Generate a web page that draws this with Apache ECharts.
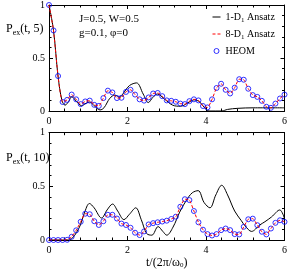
<!DOCTYPE html>
<html><head><meta charset="utf-8">
<script src="https://cdn.jsdelivr.net/npm/echarts@6/dist/echarts.min.js"></script>
<style>html,body{margin:0;padding:0;background:#fff}#c{width:290px;height:270px}</style>
</head><body><div id="c"></div>
<script>
// ---- data ----
var heomT = [0,0.115,0.231,0.346,0.462,0.577,0.692,0.808,0.923,1.038,1.154,1.269,1.385,1.5,1.615,1.731,1.846,1.962,2.077,2.192,2.308,2.423,2.538,2.654,2.769,2.885,3.0,3.115,3.231,3.346,3.462,3.577,3.692,3.808,3.923,4.038,4.154,4.269,4.385,4.5,4.615,4.731,4.846,4.962,5.077,5.192,5.308,5.423,5.538,5.654,5.769,5.885,6.0];
var heomTop = [1.0,0.76,0.33,0.085,0.105,0.155,0.11,0.065,0.09,0.098,0.058,0.048,0.122,0.192,0.175,0.122,0.125,0.18,0.20,0.155,0.11,0.098,0.128,0.165,0.17,0.14,0.10,0.096,0.087,0.07,0.065,0.093,0.11,0.10,0.047,0.034,0.11,0.217,0.257,0.20,0.165,0.22,0.30,0.295,0.21,0.15,0.133,0.096,0.04,0.03,0.07,0.118,0.155];
var d8Top = [1.0,0.76,0.33,0.085,0.105,0.155,0.11,0.065,0.09,0.098,0.058,0.048,0.122,0.192,0.175,0.122,0.125,0.18,0.20,0.155,0.11,0.098,0.128,0.165,0.17,0.14,0.10,0.096,0.087,0.07,0.065,0.093,0.11,0.10,0.047,0.034,0.11,0.217,0.257,0.20,0.165,0.22,0.30,0.295,0.21,0.15,0.133,0.096,0.04,0.03,0.07,0.118,0.155];
var heomBot = [0,0,0,0,0.002,0.03,0.09,0.17,0.245,0.24,0.175,0.14,0.175,0.235,0.235,0.20,0.153,0.14,0.114,0.068,0.046,0.08,0.145,0.157,0.165,0.172,0.18,0.196,0.217,0.31,0.38,0.372,0.27,0.165,0.096,0.055,0.042,0.055,0.092,0.107,0.092,0.055,0.052,0.123,0.193,0.199,0.138,0.077,0.052,0.107,0.16,0.184,0.169];
var d8Bot = [0,0,0,0,0.002,0.03,0.09,0.17,0.245,0.24,0.175,0.14,0.175,0.235,0.235,0.20,0.153,0.14,0.114,0.068,0.046,0.08,0.145,0.157,0.165,0.172,0.18,0.196,0.217,0.31,0.38,0.372,0.27,0.165,0.096,0.055,0.042,0.055,0.092,0.107,0.092,0.055,0.052,0.123,0.193,0.199,0.138,0.077,0.052,0.107,0.16,0.184,0.169];
var blackTopT = [0,0.115,0.23,0.33,0.41,0.5,0.58,0.7,0.83,0.95,1.04,1.15,1.3,1.4,1.55,1.68,1.8,1.9,2.05,2.23,2.4,2.53,2.65,2.76,2.95,3.15,3.35,3.6,3.7,3.84,4.0,4.1,4.4,4.55,4.8,5.2,6.0];
var blackTopV = [1.0,0.76,0.33,0.10,0.055,0.09,0.135,0.09,0.05,0.075,0.085,0.05,0.01,0.03,0.12,0.15,0.13,0.17,0.24,0.265,0.16,0.08,0.13,0.16,0.11,0.055,0.045,0.09,0.105,0.085,0.015,0.0,0.0,0.015,0.025,0.03,0.03];
var blackBotT = [0,0.5,0.6,0.7,0.8,0.9,1.03,1.15,1.34,1.48,1.62,1.75,1.91,2.05,2.21,2.35,2.49,2.62,2.78,2.9,3.0,3.16,3.33,3.5,3.65,3.8,3.95,4.1,4.25,4.4,4.55,4.73,4.9,5.0,5.16,5.37,5.5,5.67,5.88,6.0];
var blackBotV = [0,0,0.02,0.07,0.14,0.25,0.34,0.30,0.205,0.28,0.335,0.27,0.19,0.24,0.30,0.19,0.06,0.045,0.125,0.08,0.045,0.12,0.26,0.37,0.44,0.46,0.35,0.30,0.42,0.51,0.42,0.27,0.18,0.13,0.08,0.14,0.17,0.215,0.28,0.20];
var seriesNames = ['1-D{s|1} Ansatz','8-D{s|1} Ansatz','HEOM'];

function pairs(t, v){ return t.map(function(x,i){ return [x, v[i]]; }); }

var FONT = 'Liberation Serif';
var subRich = { s: { fontSize: 7, lineHeight: 6, verticalAlign: 'bottom', fontFamily: FONT, color: '#000' } };

function xAx(grid, pos, labels, extra){
  var a = { type:'value', gridIndex:grid, position:pos, min:0, max:6, interval:2,
    axisLine:{show:true, onZero:false, lineStyle:{color:'#000', width:1}},
    axisTick:{show:true, inside:true, length:4, lineStyle:{color:'#000'}},
    minorTick:{show:true, splitNumber:5, length:2.5, lineStyle:{color:'#000'}},
    splitLine:{show:false},
    axisLabel:{show:labels, margin:5, fontSize:10, fontFamily:FONT, color:'#000'} };
  if (extra) for (var k in extra) a[k]=extra[k];
  return a;
}
function yAx(grid, pos, labels){
  return { type:'value', gridIndex:grid, position:pos, min:0, max:1, interval:0.5,
    axisLine:{show:true, onZero:false, lineStyle:{color:'#000', width:1}},
    axisTick:{show:true, inside:true, length:4, lineStyle:{color:'#000'}},
    minorTick:{show:true, splitNumber:5, length:2.5, lineStyle:{color:'#000'}},
    splitLine:{show:false},
    axisLabel:{show:labels, margin:4, fontSize:10, fontFamily:FONT, color:'#000'} };
}

var chart = echarts.init(document.getElementById('c'), null, {renderer:'canvas'});
var lineW = 1;
var heomStyle = {color:'rgba(0,0,0,0)', borderColor:'#0000ff', borderWidth:1};
var hiddenSym = {color:'rgba(0,0,0,0)', borderWidth:0, opacity:0};
chart.setOption({
  animation:false,
  backgroundColor:'#fff',
  grid:[
    {left:49, right:4.5, top:3.5, height:107.5},
    {left:49, right:4.5, top:132.7, height:109}
  ],
  xAxis:[
    xAx(0,'bottom',true),
    xAx(0,'top',false),
    xAx(1,'bottom',true,{name:'t/(2π/ω{s|0})', nameLocation:'middle', nameGap:17,
      nameTextStyle:{fontSize:12, fontFamily:FONT, color:'#000', rich:subRich}}),
    xAx(1,'top',false)
  ],
  yAxis:[ yAx(0,'left',true), yAx(0,'right',false), yAx(1,'left',true), yAx(1,'right',false) ],
  legend:{
    orient:'vertical', left:212, top:10, itemWidth:8, itemHeight:5, itemGap:3, padding:0,
    textStyle:{fontSize:10, fontFamily:FONT, color:'#000', lineHeight:14, rich:subRich},
    data:[
      {name:seriesNames[0], itemStyle:hiddenSym, lineStyle:{color:'#000', width:1}},
      {name:seriesNames[1], itemStyle:hiddenSym, lineStyle:{color:'#ff0000', width:1, type:[3,2]}},
      {name:seriesNames[2], icon:'circle', itemStyle:heomStyle}
    ]
  },
  graphic:[
    {type:'text', left:79, top:14, style:{text:'J=0.5, W=0.5', font:'11px "Liberation Serif"', fill:'#000'}},
    {type:'text', left:79, top:28, style:{text:'g=0.1, φ=0', font:'11px "Liberation Serif"', fill:'#000'}},
    {type:'text', left:6, top:21, style:{text:'P{s|ex}(t, 5)', fontSize:12, fontFamily:FONT, fill:'#000', lineHeight:16,
      rich:{s:{fontSize:8, lineHeight:8, verticalAlign:'bottom', fontFamily:FONT, fill:'#000'}}}},
    {type:'text', left:6, top:150, style:{text:'P{s|ex}(t, 10)', fontSize:12, fontFamily:FONT, fill:'#000', lineHeight:16,
      rich:{s:{fontSize:8, lineHeight:8, verticalAlign:'bottom', fontFamily:FONT, fill:'#000'}}}}
  ],
  series:[
    {name:seriesNames[0], type:'line', xAxisIndex:0, yAxisIndex:0, data:pairs(blackTopT, blackTopV),
      smooth:0.35, symbol:'none', z:2, itemStyle:hiddenSym, lineStyle:{color:'#000', width:lineW}},
    {name:seriesNames[2], type:'scatter', xAxisIndex:0, yAxisIndex:0, data:pairs(heomT, heomTop),
      symbol:'circle', symbolSize:5, z:3, itemStyle:heomStyle},
    {name:seriesNames[1], type:'line', xAxisIndex:0, yAxisIndex:0, data:pairs(heomT, d8Top),
      smooth:0.2, symbol:'none', z:4, itemStyle:hiddenSym, lineStyle:{color:'#ff0000', width:lineW, type:[3,2]}},
    {name:seriesNames[0], type:'line', xAxisIndex:2, yAxisIndex:2, data:pairs(blackBotT, blackBotV),
      smooth:0.35, symbol:'none', z:2, itemStyle:hiddenSym, lineStyle:{color:'#000', width:lineW}},
    {name:seriesNames[2], type:'scatter', xAxisIndex:2, yAxisIndex:2, data:pairs(heomT, heomBot),
      symbol:'circle', symbolSize:5, z:3, itemStyle:heomStyle},
    {name:seriesNames[1], type:'line', xAxisIndex:2, yAxisIndex:2, data:pairs(heomT, d8Bot),
      smooth:0.2, symbol:'none', z:4, itemStyle:hiddenSym, lineStyle:{color:'#ff0000', width:lineW, type:[3,2]}}
  ]
});
</script>
</body></html>
